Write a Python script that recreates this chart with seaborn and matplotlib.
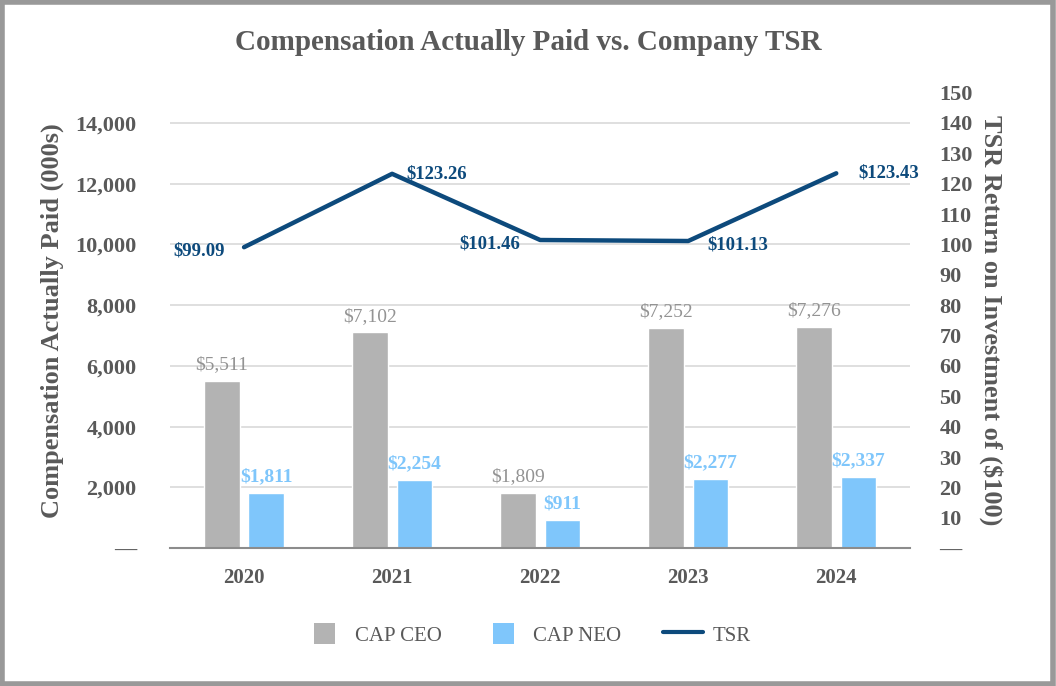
import numpy as np
import pandas as pd
import matplotlib
matplotlib.use("Agg")
import matplotlib.pyplot as plt
from matplotlib.patches import Rectangle, Patch
from matplotlib.lines import Line2D
from matplotlib.legend_handler import HandlerPatch
from matplotlib.ticker import FuncFormatter
import seaborn as sns

years = ["2020", "2021", "2022", "2023", "2024"]
cap_ceo = [5511, 7102, 1809, 7252, 7276]
cap_neo = [1811, 2254, 911, 2277, 2337]
tsr = [99.09, 123.26, 101.46, 101.13, 123.43]

ceo_col = "#b3b3b3"
neo_col = "#7fc6fb"
tsr_col = "#0d4a7c"
txt_col = "#595959"

sns.set_theme(style="white")
plt.rcParams["font.family"] = ["Liberation Serif", "DejaVu Serif"]

df = pd.DataFrame({"year": years * 2,
                   "value": cap_ceo + cap_neo,
                   "series": ["CAP CEO"] * 5 + ["CAP NEO"] * 5})

fig = plt.figure(figsize=(10.56, 6.86), dpi=100)
ax = fig.add_axes([0.161, 0.201, 0.701, 0.664])
sns.barplot(data=df, x="year", y="value", hue="series", palette=[ceo_col, neo_col],
            width=0.6, gap=0.2, saturation=1, ax=ax, legend=False)
ax.set_xlim(-0.5, 4.5)
ax.set_ylim(0, 15000)
ax.set_yticks(np.arange(0, 14001, 2000))
ax.yaxis.set_major_formatter(FuncFormatter(lambda v, p: "—" if v == 0 else f"{int(v):,}"))
ax.grid(axis="y", color="#d9d9d9", linewidth=1.2)
ax.set_axisbelow(True)
for s in ["top", "right", "left"]:
    ax.spines[s].set_visible(False)
ax.spines["bottom"].set_color("#8c8c8c")
ax.spines["bottom"].set_linewidth(1.5)
ax.tick_params(axis="y", length=0, labelsize=16, labelcolor=txt_col, pad=24)
ax.tick_params(axis="x", length=0, labelsize=15, labelcolor=txt_col, pad=14)
for lab in ax.get_xticklabels() + ax.get_yticklabels():
    lab.set_fontweight("bold")
ax.set_xlabel("")
ax.set_ylabel("Compensation Actually Paid (000s)", fontsize=19, fontweight="bold",
              color=txt_col, labelpad=8)

# bar labels
for i in range(5):
    ax.text(i - 0.15, cap_ceo[i] + 250, f"${cap_ceo[i]:,}", ha="center", va="bottom",
            fontsize=14, color="#939393")
    ax.text(i + 0.15, cap_neo[i] + 250, f"${cap_neo[i]:,}", ha="center", va="bottom",
            fontsize=14, color=neo_col, fontweight="bold")

ax2 = ax.twinx()
sns.lineplot(x=np.arange(5), y=tsr, color=tsr_col, linewidth=3.2, ax=ax2)
ax2.set_ylim(0, 150)
ax2.set_yticks(np.arange(0, 151, 10))
ax2.yaxis.set_major_formatter(FuncFormatter(lambda v, p: "—" if v == 0 else f"{int(v)}"))
for s in ["top", "right", "left", "bottom"]:
    ax2.spines[s].set_visible(False)
ax2.tick_params(axis="y", length=0, labelsize=16, labelcolor=txt_col, pad=21)
for lab in ax2.get_yticklabels():
    lab.set_fontweight("bold")
ax2.set_ylabel("TSR Return on Investment of ($100)", fontsize=19, fontweight="bold",
               color=txt_col, rotation=270, labelpad=22)

offs = [(-14, -3, "right"), (10, 0, "left"), (-14, -3, "right"), (14, -3, "left"), (16, 0, "left")]
for i, (dx, dy, ha) in enumerate(offs):
    ax2.annotate(f"${tsr[i]:.2f}", (i, tsr[i]), xytext=(dx, dy), textcoords="offset points",
                 ha=ha, va="center", fontsize=13.5, fontweight="bold", color=tsr_col)


class SquarePatch(HandlerPatch):
    def create_artists(self, legend, orig, xd, yd, width, height, fontsize, trans):
        side = height * 1.05
        r = Rectangle((-xd + (width - side) / 2, -yd + (height - side) / 2), side, side,
                      facecolor=orig.get_facecolor(), edgecolor="none", transform=trans)
        return [r]


handles = [Patch(color=ceo_col, label="CAP CEO"),
           Patch(color=neo_col, label="CAP NEO"),
           Line2D([0], [0], color=tsr_col, linewidth=3, label="TSR")]
fig.legend(handles=handles, loc="center", bbox_to_anchor=(0.5, 0.075), ncol=3, frameon=False,
           fontsize=15, labelcolor=txt_col, handlelength=1.9, handleheight=1.1,
           columnspacing=2.0, handletextpad=0.5, handler_map={Patch: SquarePatch()})

fig.suptitle("Compensation Actually Paid vs. Company TSR", y=0.958, fontsize=21,
             fontweight="bold", color=txt_col)

fig.patches.append(Rectangle((0.002, 0.003), 0.995, 0.994, transform=fig.transFigure,
                             fill=False, edgecolor="#999999", linewidth=4))

fig.savefig("out.png", dpi=100)
